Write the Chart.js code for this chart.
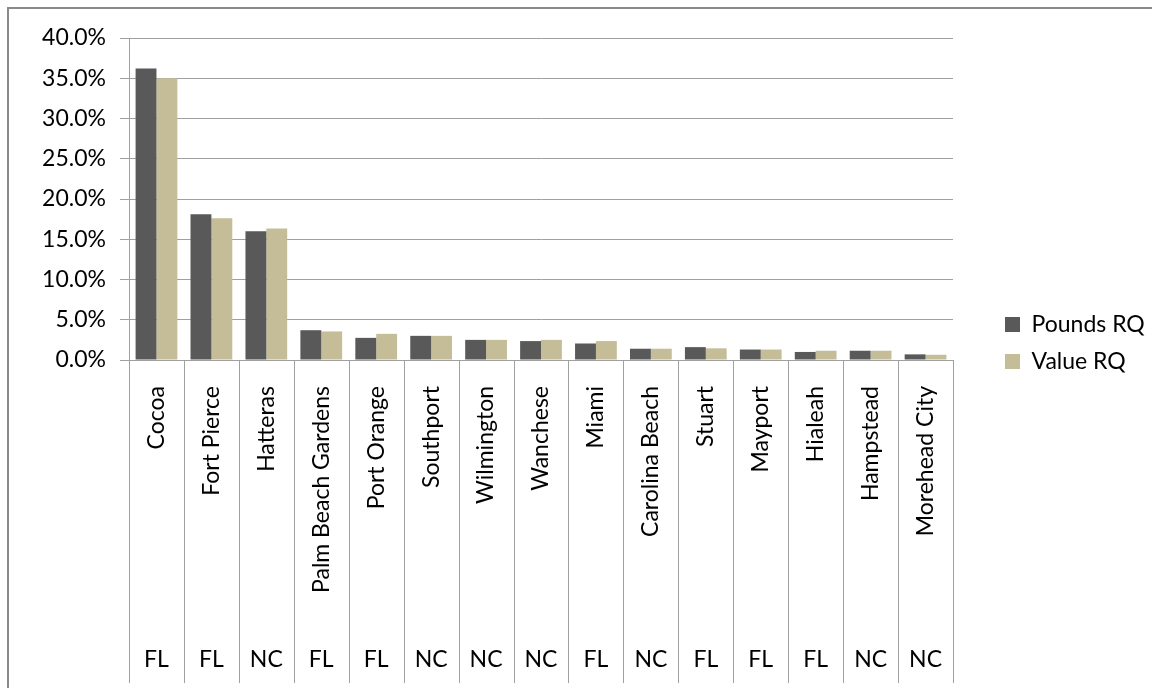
<!DOCTYPE html>
<html>
<head>
<meta charset="utf-8">
<script src="https://cdn.jsdelivr.net/npm/chart.js@4.4.1/dist/chart.umd.min.js"></script>
<style>
  html, body { margin: 0; padding: 0; background: #ffffff; }
  #wrap { position: relative; width: 1152px; height: 688px; overflow: hidden; }
  #frame { position: absolute; left: 7px; top: 7px; width: 1200px; height: 700px;
           border-left: 2px solid #8a8a8a; border-top: 2px solid #8a8a8a; }
  canvas { position: absolute; left: 0; top: 0; }
</style>
</head>
<body>
<div id="wrap">
  <div id="frame"></div>
  <canvas id="c" width="1152" height="688"></canvas>
</div>
<script>
const cities = ['Cocoa', 'Fort Pierce', 'Hatteras', 'Palm Beach Gardens', 'Port Orange', 'Southport',
  'Wilmington', 'Wanchese', 'Miami', 'Carolina Beach', 'Stuart', 'Mayport', 'Hialeah', 'Hampstead', 'Morehead City'];
const states = ['FL', 'FL', 'NC', 'FL', 'FL', 'NC', 'NC', 'NC', 'FL', 'NC', 'FL', 'FL', 'FL', 'NC', 'NC'];
const poundsRQ = [36.2, 18.1, 16.0, 3.7, 2.75, 3.0, 2.5, 2.35, 2.05, 1.4, 1.6, 1.3, 1.0, 1.15, 0.7];
const valueRQ = [35.0, 17.6, 16.35, 3.55, 3.25, 3.0, 2.5, 2.5, 2.35, 1.4, 1.45, 1.3, 1.15, 1.15, 0.65];
const seriesNames = ['Pounds RQ', 'Value RQ'];
const yTicks = [0, 5, 10, 15, 20, 25, 30, 35, 40];

Chart.defaults.font.family = 'Lato';
Chart.defaults.font.size = 23;
Chart.defaults.color = '#000000';

const lineColor = '#a0a0a0';

const separators = {
  id: 'separators',
  afterDraw(chart) {
    const xs = chart.scales.x;
    const ctx = chart.ctx;
    ctx.save();
    ctx.strokeStyle = lineColor;
    ctx.lineWidth = 1;
    for (let i = 0; i <= cities.length; i++) {
      const px = Math.round(xs.getPixelForValue(i - 0.5)) + 0.5;
      ctx.beginPath();
      ctx.moveTo(px, chart.chartArea.bottom);
      ctx.lineTo(px, 683);
      ctx.stroke();
    }
    ctx.restore();
  }
};

const legendPlace = {
  id: 'legendPlace',
  beforeLayout(chart) {
    const lg = chart.legend;
    if (lg && !lg._patched) {
      lg._patched = true;
      const fit = lg.fit;
      lg.fit = function () { fit.call(this); this.width = 199; };
    }
  },
  afterLayout(chart) {
    const lg = chart.legend;
    lg.left += 38;
    lg.top -= 16;
    lg.bottom -= 16;
  }
};

new Chart(document.getElementById('c'), {
  type: 'bar',
  data: {
    labels: cities,
    datasets: [
      { label: seriesNames[0], data: poundsRQ, backgroundColor: '#595959', borderWidth: 0,
        categoryPercentage: 0.76, barPercentage: 1.0 },
      { label: seriesNames[1], data: valueRQ, backgroundColor: '#c4bd97', borderWidth: 0,
        categoryPercentage: 0.76, barPercentage: 1.0 }
    ]
  },
  options: {
    responsive: false,
    animation: false,
    devicePixelRatio: 1,
    layout: { padding: { left: 0, top: 38, right: 0, bottom: 8 } },
    plugins: {
      legend: {
        position: 'right',
        align: 'center',
        labels: { boxWidth: 15, boxHeight: 15, padding: 14, font: { size: 23 }, color: '#000' }
      },
      tooltip: { enabled: false }
    },
    scales: {
      y: {
        min: 0, max: 40,
        afterFit(s) { s.width = 129; },
        afterBuildTicks(s) { s.ticks = yTicks.map(v => ({ value: v })); },
        ticks: { padding: 14, callback: v => v.toFixed(1) + '%', font: { size: 23 }, color: '#000' },
        grid: { color: lineColor, lineWidth: 1, tickLength: 9, drawTicks: true },
        border: { display: true, color: lineColor, width: 1 }
      },
      x: {
        type: 'category',
        position: 'bottom',
        weight: 0,
        offset: true,
        afterFit(s) { s.height = 270; },
        ticks: { autoSkip: false, minRotation: 90, maxRotation: 90, padding: 26, font: { size: 23 }, color: '#000' },
        grid: { display: false, drawTicks: false, offset: true },
        border: { display: true, color: lineColor, width: 1 }
      },
      x2: {
        type: 'category',
        position: 'bottom',
        weight: 1,
        labels: states,
        offset: true,
        afterFit(s) { s.height = 50; },
        ticks: { autoSkip: false, maxRotation: 0, minRotation: 0, padding: 16, font: { size: 23 }, color: '#000' },
        grid: { display: false, drawTicks: false, offset: true },
        border: { display: false }
      }
    }
  },
  plugins: [separators, legendPlace]
});
</script>
</body>
</html>
